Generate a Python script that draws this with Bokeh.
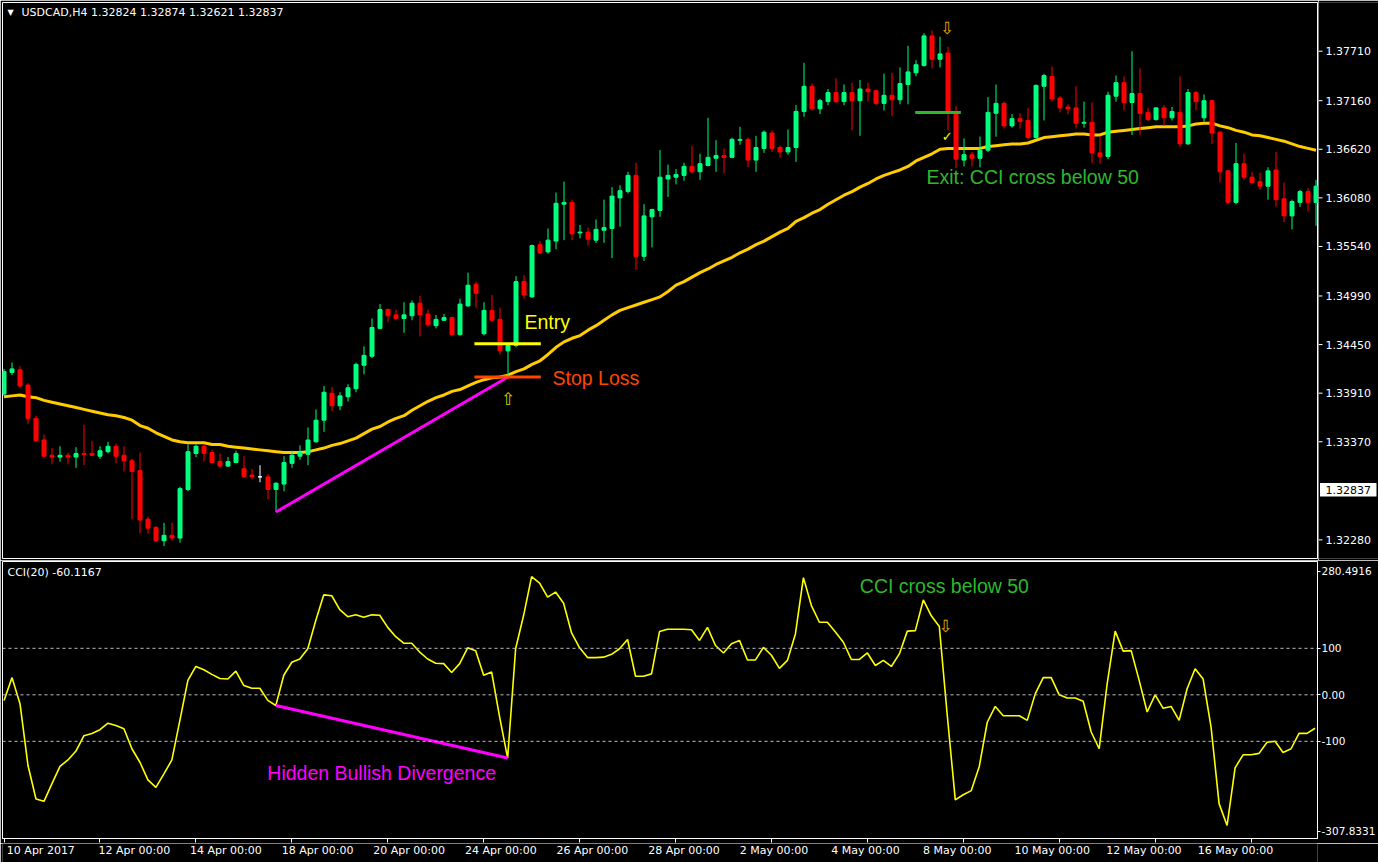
from bokeh.plotting import figure
from bokeh.layouts import column, row
from bokeh.models import (ColumnDataSource, FixedTicker, Label, Range1d, Span)
from bokeh.core.properties import value
from bokeh.embed import file_html
from bokeh.resources import INLINE

# ---------------- data (USDCAD H4) ----------------
open_ = [1.3390, 1.3414, 1.3417, 1.3400, 1.3363, 1.3339, 1.3322, 1.3320, 1.3322, 1.3320,
         1.3324, 1.3324, 1.3321, 1.3326, 1.3332, 1.3322, 1.3316, 1.3305, 1.3251, 1.3242,
         1.3227, 1.3233, 1.3230, 1.3284, 1.3324, 1.3332, 1.3325, 1.3315, 1.3310, 1.3314,
         1.3307, 1.3300, 1.3298, 1.3298, 1.3284, 1.3290, 1.3313, 1.3321, 1.3323, 1.3337,
         1.3361, 1.3391, 1.3377, 1.3387, 1.3396, 1.3422, 1.3432, 1.3463, 1.3484, 1.3478,
         1.3474, 1.3477, 1.3491, 1.3479, 1.3466, 1.3472, 1.3475, 1.3456, 1.3488, 1.3512,
         1.3457, 1.3483, 1.3473, 1.3438, 1.3444, 1.3515, 1.3498, 1.3556, 1.3548, 1.3560,
         1.3601, 1.3603, 1.3569, 1.3570, 1.3561, 1.3572, 1.3574, 1.3608, 1.3615, 1.3633,
         1.3543, 1.3587, 1.3594, 1.3629, 1.3631, 1.3633, 1.3643, 1.3637, 1.3644, 1.3652,
         1.3655, 1.3653, 1.3672, 1.3673, 1.3650, 1.3663, 1.3680, 1.3664, 1.3659, 1.3664,
         1.3704, 1.3732, 1.3707, 1.3715, 1.3725, 1.3715, 1.3725, 1.3716, 1.3729, 1.3727,
         1.3713, 1.3722, 1.3717, 1.3734, 1.3747, 1.3755, 1.3788, 1.3762, 1.3769, 1.3701,
         1.3650, 1.3656, 1.3652, 1.3661, 1.3702, 1.3713, 1.3688, 1.3696, 1.3694, 1.3675,
         1.3732, 1.3743, 1.3719, 1.3709, 1.3708, 1.3691, 1.3692, 1.3658, 1.3654, 1.3721,
         1.3736, 1.3714, 1.3724, 1.3703, 1.3695, 1.3708, 1.3697, 1.3703, 1.3668, 1.3725,
         1.3697, 1.3716, 1.3681, 1.3638, 1.3603, 1.3646, 1.3631, 1.3626, 1.3621, 1.3639,
         1.3607, 1.3588, 1.3603, 1.3615, 1.3603]
high = [1.3418, 1.3425, 1.3421, 1.3402, 1.3366, 1.3345, 1.3330, 1.3332, 1.3325, 1.3331,
        1.3356, 1.3338, 1.3332, 1.3337, 1.3335, 1.3332, 1.3318, 1.3325, 1.3254, 1.3243,
        1.3247, 1.3247, 1.3287, 1.3334, 1.3334, 1.3334, 1.3328, 1.3324, 1.3320, 1.3327,
        1.3321, 1.3307, 1.3311, 1.3301, 1.3292, 1.3321, 1.3327, 1.3333, 1.3353, 1.3373,
        1.3399, 1.3398, 1.3392, 1.3401, 1.3425, 1.3443, 1.3474, 1.3490, 1.3485, 1.3484,
        1.3492, 1.3494, 1.3499, 1.3484, 1.3478, 1.3479, 1.3476, 1.3496, 1.3525, 1.3515,
        1.3492, 1.3500, 1.3486, 1.3446, 1.3521, 1.3522, 1.3556, 1.3560, 1.3574, 1.3614,
        1.3626, 1.3606, 1.3578, 1.3575, 1.3584, 1.3606, 1.3620, 1.3622, 1.3637, 1.3647,
        1.3601, 1.3596, 1.3661, 1.3645, 1.3640, 1.3647, 1.3666, 1.3657, 1.3697, 1.3672,
        1.3663, 1.3675, 1.3687, 1.3675, 1.3677, 1.3683, 1.3683, 1.3666, 1.3684, 1.3711,
        1.3758, 1.3735, 1.3718, 1.3729, 1.3741, 1.3734, 1.3736, 1.3739, 1.3736, 1.3728,
        1.3746, 1.3747, 1.3753, 1.3777, 1.3761, 1.3791, 1.3794, 1.3787, 1.3776, 1.3710,
        1.3674, 1.3659, 1.3676, 1.3720, 1.3734, 1.3715, 1.3701, 1.3702, 1.3708, 1.3734,
        1.3746, 1.3754, 1.3721, 1.3712, 1.3732, 1.3715, 1.3714, 1.3677, 1.3726, 1.3744,
        1.3743, 1.3771, 1.3752, 1.3708, 1.3709, 1.3711, 1.3709, 1.3743, 1.3729, 1.3727,
        1.3723, 1.3717, 1.3682, 1.3639, 1.3669, 1.3657, 1.3637, 1.3636, 1.3642, 1.3659,
        1.3625, 1.3606, 1.3617, 1.3619, 1.3628]
low = [1.3388, 1.3411, 1.3397, 1.3357, 1.3337, 1.3320, 1.3312, 1.3315, 1.3312, 1.3308,
       1.3311, 1.3321, 1.3318, 1.3324, 1.3313, 1.3304, 1.3251, 1.3235, 1.3235, 1.3226,
       1.3221, 1.3227, 1.3225, 1.3282, 1.3320, 1.3315, 1.3313, 1.3308, 1.3309, 1.3313,
       1.3297, 1.3295, 1.3292, 1.3273, 1.3259, 1.3282, 1.3308, 1.3317, 1.3311, 1.3336,
       1.3348, 1.3371, 1.3372, 1.3382, 1.3392, 1.3412, 1.3430, 1.3462, 1.3470, 1.3472,
       1.3458, 1.3472, 1.3454, 1.3465, 1.3463, 1.3471, 1.3455, 1.3455, 1.3487, 1.3486,
       1.3455, 1.3471, 1.3434, 1.3411, 1.3442, 1.3496, 1.3497, 1.3546, 1.3546, 1.3551,
       1.3561, 1.3561, 1.3563, 1.3555, 1.3558, 1.3558, 1.3541, 1.3576, 1.3613, 1.3528,
       1.3538, 1.3553, 1.3587, 1.3609, 1.3623, 1.3627, 1.3635, 1.3628, 1.3643, 1.3637,
       1.3635, 1.3652, 1.3667, 1.3642, 1.3637, 1.3658, 1.3659, 1.3653, 1.3656, 1.3648,
       1.3698, 1.3705, 1.3701, 1.3711, 1.3713, 1.3711, 1.3683, 1.3677, 1.3715, 1.3711,
       1.3705, 1.3699, 1.3712, 1.3712, 1.3743, 1.3754, 1.3752, 1.3753, 1.3683, 1.3641,
       1.3643, 1.3643, 1.3642, 1.3659, 1.3676, 1.3685, 1.3686, 1.3685, 1.3673, 1.3674,
       1.3694, 1.3715, 1.3703, 1.3701, 1.3685, 1.3686, 1.3647, 1.3646, 1.3651, 1.3715,
       1.3705, 1.3678, 1.3678, 1.3693, 1.3694, 1.3688, 1.3694, 1.3665, 1.3667, 1.3705,
       1.3693, 1.3668, 1.3625, 1.3601, 1.3601, 1.3628, 1.3624, 1.3617, 1.3606, 1.3598,
       1.3581, 1.3573, 1.3598, 1.3593, 1.3577]
close_ = [1.3415, 1.3418, 1.3399, 1.3363, 1.3338, 1.3321, 1.3320, 1.3322, 1.3320, 1.3324,
          1.3323, 1.3322, 1.3327, 1.3332, 1.3321, 1.3316, 1.3304, 1.3250, 1.3241, 1.3227,
          1.3233, 1.3230, 1.3285, 1.3326, 1.3332, 1.3324, 1.3314, 1.3310, 1.3315, 1.3324,
          1.3298, 1.3298, 1.3298, 1.3284, 1.3291, 1.3314, 1.3322, 1.3325, 1.3339, 1.3361,
          1.3392, 1.3377, 1.3388, 1.3397, 1.3423, 1.3433, 1.3464, 1.3484, 1.3477, 1.3474,
          1.3478, 1.3491, 1.3478, 1.3467, 1.3473, 1.3475, 1.3456, 1.3490, 1.3511, 1.3502,
          1.3483, 1.3472, 1.3438, 1.3444, 1.3515, 1.3500, 1.3555, 1.3547, 1.3561, 1.3602,
          1.3603, 1.3568, 1.3570, 1.3562, 1.3573, 1.3575, 1.3610, 1.3616, 1.3633, 1.3543,
          1.3588, 1.3595, 1.3631, 1.3633, 1.3634, 1.3643, 1.3637, 1.3646, 1.3653, 1.3655,
          1.3653, 1.3673, 1.3673, 1.3650, 1.3664, 1.3681, 1.3663, 1.3659, 1.3664, 1.3704,
          1.3732, 1.3707, 1.3716, 1.3725, 1.3715, 1.3725, 1.3716, 1.3729, 1.3726, 1.3713,
          1.3722, 1.3717, 1.3735, 1.3748, 1.3756, 1.3788, 1.3762, 1.3768, 1.3703, 1.3651,
          1.3656, 1.3652, 1.3661, 1.3703, 1.3713, 1.3688, 1.3696, 1.3693, 1.3675, 1.3733,
          1.3744, 1.3718, 1.3708, 1.3707, 1.3691, 1.3692, 1.3658, 1.3654, 1.3722, 1.3736,
          1.3714, 1.3724, 1.3702, 1.3695, 1.3708, 1.3697, 1.3704, 1.3668, 1.3725, 1.3715,
          1.3716, 1.3680, 1.3637, 1.3603, 1.3646, 1.3631, 1.3625, 1.3621, 1.3638, 1.3606,
          1.3588, 1.3604, 1.3615, 1.3603, 1.3621]
ma_line = [1.3387, 1.3388, 1.3389, 1.3387, 1.3386, 1.3383, 1.3381, 1.3379, 1.3377, 1.3375,
           1.3373, 1.3371, 1.3369, 1.3367, 1.3366, 1.3364, 1.3361, 1.3355, 1.3352, 1.3347,
           1.3343, 1.3339, 1.3337, 1.3336, 1.3336, 1.3336, 1.3334, 1.3334, 1.3332, 1.3331,
           1.3330, 1.3329, 1.3328, 1.3327, 1.3326, 1.3325, 1.3325, 1.3325, 1.3326, 1.3328,
           1.3330, 1.3333, 1.3335, 1.3338, 1.3341, 1.3346, 1.3351, 1.3354, 1.3359, 1.3363,
           1.3366, 1.3372, 1.3377, 1.3382, 1.3386, 1.3389, 1.3393, 1.3395, 1.3399, 1.3403,
           1.3406, 1.3408, 1.3409, 1.3411, 1.3415, 1.3418, 1.3423, 1.3427, 1.3434, 1.3442,
           1.3448, 1.3452, 1.3455, 1.3461, 1.3466, 1.3472, 1.3478, 1.3483, 1.3486, 1.3489,
           1.3492, 1.3495, 1.3498, 1.3504, 1.3511, 1.3515, 1.3520, 1.3525, 1.3529, 1.3534,
           1.3538, 1.3542, 1.3547, 1.3551, 1.3556, 1.3560, 1.3565, 1.3570, 1.3574, 1.3582,
           1.3586, 1.3591, 1.3595, 1.3601, 1.3606, 1.3611, 1.3615, 1.3620, 1.3624, 1.3629,
           1.3633, 1.3636, 1.3639, 1.3643, 1.3649, 1.3653, 1.3657, 1.3662, 1.3663, 1.3663,
           1.3663, 1.3663, 1.3663, 1.3665, 1.3666, 1.3667, 1.3668, 1.3668, 1.3669, 1.3672,
           1.3675, 1.3676, 1.3677, 1.3678, 1.3679, 1.3679, 1.3678, 1.3678, 1.3681, 1.3682,
           1.3683, 1.3684, 1.3685, 1.3686, 1.3687, 1.3687, 1.3687, 1.3687, 1.3688, 1.3690,
           1.3691, 1.3691, 1.3688, 1.3686, 1.3683, 1.3681, 1.3678, 1.3677, 1.3675, 1.3673,
           1.3671, 1.3668, 1.3665, 1.3663, 1.3661]
cci20 = [-12, 37, -19, -152, -224, -229, -191, -154, -140, -121,
         -88, -83, -75, -61, -66, -73, -116, -145, -183, -199,
         -170, -140, -55, 31, 61, 54, 44, 35, 34, 51,
         20, 14, 14, -12, -23, 42, 70, 77, 99, 160,
         215, 213, 183, 168, 172, 167, 172, 171, 145, 125,
         111, 111, 92, 77, 68, 67, 48, 67, 101, 95,
         42, 49, -48, -136, 99, 171, 254, 240, 210, 221,
         197, 133, 101, 80, 80, 81, 87, 99, 119, 40,
         40, 45, 136, 141, 141, 141, 140, 117, 145, 106,
         90, 110, 117, 75, 75, 102, 85, 57, 74, 131,
         252, 192, 156, 156, 135, 113, 76, 76, 90, 63,
         74, 61, 88, 137, 138, 204, 170, 147, -45, -226,
         -215, -206, -154, -59, -25, -45, -45, -45, -55, 2,
         37, 37, 0, -7, -7, -14, -80, -116, 24, 137,
         94, 95, 31, -37, 0, -29, -25, -55, 13, 56,
         34, -70, -234, -281, -157, -129, -129, -126, -102, -100,
         -124, -116, -83, -83, -72]

date_ticks = [0, 12, 24, 36, 48, 60, 72, 84, 96, 108, 120, 132, 144, 156]
date_labels = ["10 Apr 2017", "12 Apr 00:00", "14 Apr 00:00", "18 Apr 00:00",
               "20 Apr 00:00", "24 Apr 00:00", "26 Apr 00:00", "28 Apr 00:00",
               "2 May 00:00", "4 May 00:00", "8 May 00:00", "10 May 00:00",
               "12 May 00:00", "16 May 00:00"]
price_ticks = [1.32280, 1.33370, 1.33910, 1.34450, 1.34990, 1.35540,
               1.36080, 1.36620, 1.37160, 1.37710]
price_tick_labels = ["1.32280", "1.33370", "1.33910", "1.34450", "1.34990", "1.35540",
                     "1.36080", "1.36620", "1.37160", "1.37710"]
cci_levels = [100, 0, -100]
cci_max, cci_min = 280.4916, -307.8331
last_price = 1.32837
last_price_label = "1.32837"

# trade annotations
entry_price = 1.3446
stop_price = 1.3409
exit_price = 1.3703
trade_x = [58.8, 67.1]
exit_x = [113.9, 119.6]
div_x = [34, 63]
div_price = [1.3259, 1.3409]
div_cci = [-23, -136]

# ---------------- styling ----------------
BG = "black"
GREEN = "#00FF7F"
RED = "#FF0000"
TXT_GREEN = "#2DB82D"
MAG = "#FF00FF"
FONT = "DejaVu Sans"
AFONT = "Liberation Sans"

X0, X1 = -0.19, 164.31          # frame spans pixels 2 .. 1318 (8 px per bar)
Y0, Y1 = 1.32073, 1.38251        # price frame spans pixels 2 .. 558
PX_PRICE = (Y1 - Y0) / 556.0     # price per pixel


def bx(px):
    return X0 + (px - 2) / 8.0


xr = Range1d(X0, X1)
yr = Range1d(Y0, Y1)

n = len(close_)
idx = list(range(n))
colors = [GREEN if c > o else (RED if c < o else "#FFFFFF") for o, c in zip(open_, close_)]
src = ColumnDataSource(dict(x=idx, o=open_, h=high, l=low, c=close_,
                            top=[max(o, c) for o, c in zip(open_, close_)],
                            bottom=[min(o, c) for o, c in zip(open_, close_)],
                            color=colors))


def add_text(p, x, y, text, color, size, font=AFONT, align="left"):
    p.add_layout(Label(x=x, y=y, text=text, text_color=color, text_font=font,
                       text_font_size=size, text_align=align, text_baseline="middle"))


def plain_fig(**kw):
    p = figure(toolbar_location=None, output_backend="svg",
               background_fill_color=BG, border_fill_color=BG, **kw)
    p.grid.visible = False
    return p


# ---------------- main price panel ----------------
p1 = plain_fig(width=1318, height=560, x_range=xr, y_range=yr,
               x_axis_location=None, y_axis_location=None,
               outline_line_color="white", outline_line_width=1,
               min_border_left=2, min_border_right=0, min_border_top=2, min_border_bottom=2)

p1.line(idx, ma_line, line_color="#FFCC00", line_width=3)
p1.segment(x0="x", y0="l", x1="x", y1="h", source=src, line_color="color", line_width=1)
p1.vbar(x="x", width=0.5, top="top", bottom="bottom", source=src,
        fill_color="color", line_color="color", line_width=1)

p1.line(div_x, div_price, line_color=MAG, line_width=3)
p1.line(trade_x, [entry_price, entry_price], line_color="#FFFF00", line_width=3)
p1.line(trade_x, [stop_price, stop_price], line_color="#FF4500", line_width=3)
p1.line(exit_x, [exit_price, exit_price], line_color=TXT_GREEN, line_width=3)

add_text(p1, bx(7), 1.38140, "▼", "white", "8px", font=FONT)
add_text(p1, bx(21), 1.38140, "USDCAD,H4  1.32824 1.32874 1.32621 1.32837", "white", "11px", font=FONT)
add_text(p1, bx(524), 1.3470, "Entry", "#FFFF00", "19.5px")
add_text(p1, bx(552), 1.3408, "Stop Loss", "#FF4500", "19.5px")
add_text(p1, bx(926), 1.3631, "Exit: CCI cross below 50", TXT_GREEN, "19.5px")
add_text(p1, 63, 1.3384, "⇧", "#C8D000", "17px", font=FONT, align="center")
add_text(p1, 117.9, 1.3797, "⇩", "#E0A800", "17px", font=FONT, align="center")
add_text(p1, 117.9, 1.3676, "✓", "#FFFF00", "13px", font=FONT, align="center")

# ---------------- price scale strip (MT4 style, with current-price box) ----------------
ps = plain_fig(width=60, height=560, x_range=Range1d(0, 60), y_range=yr,
               x_axis_location=None, y_axis_location=None, outline_line_color=None,
               min_border_left=0, min_border_right=0, min_border_top=2, min_border_bottom=2)
ps.segment(x0=[0] * len(price_ticks), y0=price_ticks, x1=[4] * len(price_ticks), y1=price_ticks,
           line_color="white", line_width=1)
ps.text(x=[7] * len(price_ticks), y=price_ticks, text=price_tick_labels,
        text_align="left", text_baseline="middle",
        text_font=value(FONT), text_font_size=value("11px"), text_color="white")
ps.quad(left=[1.5], right=[58], bottom=[last_price - 6.7 * PX_PRICE], top=[last_price + 6.7 * PX_PRICE],
        fill_color="white", line_color=None)
ps.text(x=[7], y=[last_price], text=[last_price_label],
        text_align="left", text_baseline="middle",
        text_font=value(FONT), text_font_size=value("11px"), text_color="black")

# ---------------- CCI panel ----------------
p2 = plain_fig(width=1378, height=283, x_range=xr, y_range=Range1d(-309.0, 286.7),
               x_axis_location="below", y_axis_location="right",
               outline_line_color="white", outline_line_width=1,
               min_border_left=2, min_border_right=60, min_border_top=1, min_border_bottom=5)
ya = p2.yaxis[0]
ya.axis_line_color = "white"
ya.major_tick_line_color = "white"
ya.minor_tick_line_color = None
ya.major_tick_in = 0
ya.major_tick_out = 3
ya.major_label_standoff = 1
ya.major_label_text_color = "white"
ya.major_label_text_font = FONT
ya.major_label_text_font_size = "10.5px"
cci_tick_pos = [265.2, 100, 0, -100, -293.3]
ya.ticker = FixedTicker(ticks=cci_tick_pos)
ya.major_label_overrides = {265.2: f"{cci_max:.4f}", 100: "100", 0: "0.00",
                            -100: "-100", -293.3: f"{cci_min:.4f}"}

xa = p2.xaxis[0]
xa.ticker = FixedTicker(ticks=date_ticks)
xa.axis_line_color = "white"
xa.major_tick_line_color = "white"
xa.minor_tick_line_color = None
xa.major_tick_in = 0
xa.major_tick_out = 4
xa.major_label_standoff = 0
xa.major_label_text_font_size = "0px"
xa.major_label_text_color = None

for lv in cci_levels:
    p2.add_layout(Span(location=lv, dimension="width", line_color="#BFBFBF",
                       line_dash="3 3", line_width=1))

p2.line(idx, cci20, line_color="#FFFF00", line_width=1.6)
p2.line(div_x, div_cci, line_color=MAG, line_width=3)

add_text(p2, bx(7), 263, "CCI(20) -60.1167", "white", "11px", font=FONT)
add_text(p2, bx(860), 235, "CCI cross below 50", TXT_GREEN, "19.5px")
add_text(p2, bx(267), -169, "Hidden Bullish Divergence", MAG, "19.5px")
add_text(p2, 117.8, 149, "⇩", "#E0A800", "17px", font=FONT, align="center")

# ---------------- time-scale strip (labels start at their tick, MT4 style) ----------------
p3 = plain_fig(width=1378, height=19, x_range=Range1d(X0 - 2 / 8.0, X0 + 1376 / 8.0),
               y_range=Range1d(0, 1), x_axis_location=None, y_axis_location=None,
               outline_line_color=None,
               min_border_left=0, min_border_right=0, min_border_top=0, min_border_bottom=0)
p3.text(x=date_ticks, y=[0.62] * len(date_ticks), text=date_labels,
        text_align="left", text_baseline="middle", x_offset=1,
        text_font=value(FONT), text_font_size=value("11px"), text_color="white")

layout = column(row(p1, ps, spacing=0), p2, p3, spacing=0)
open("out.html", "w").write(file_html(layout, INLINE, title="USDCAD,H4"))
